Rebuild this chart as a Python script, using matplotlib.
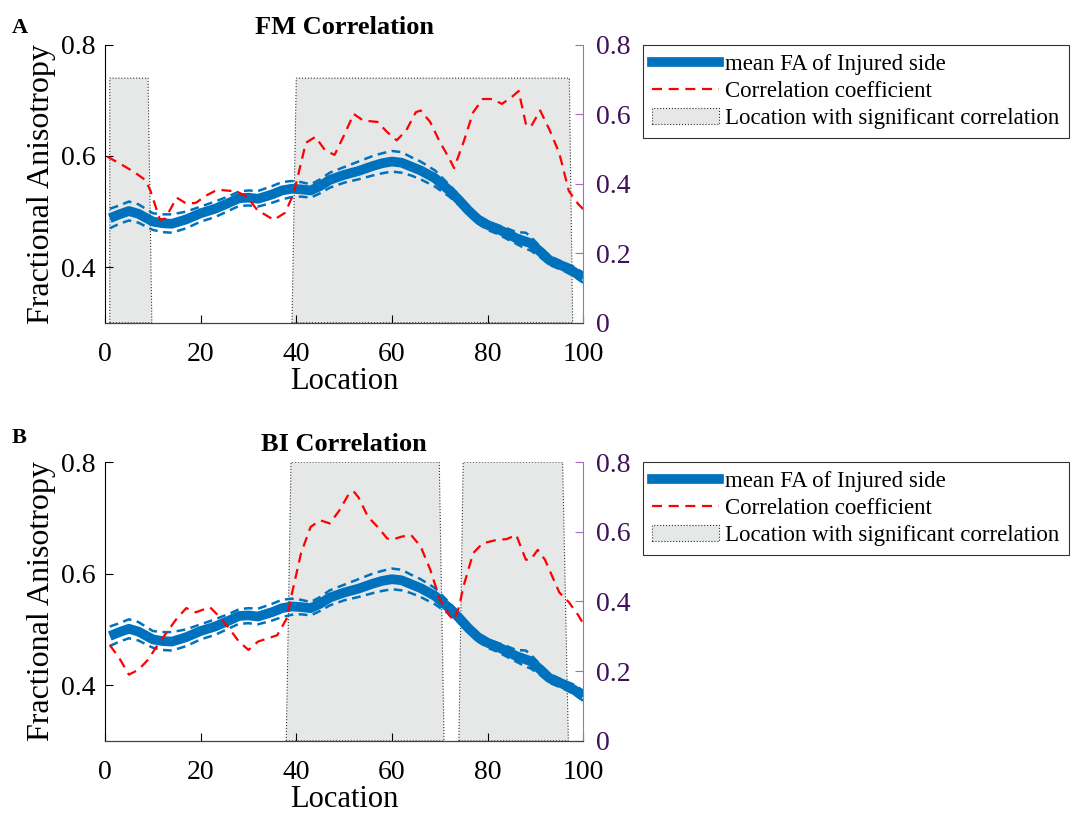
import numpy as np
import matplotlib.pyplot as plt
from matplotlib.patches import Polygon, Patch
from matplotlib.lines import Line2D

plt.rcParams['font.family'] = ['Liberation Serif', 'DejaVu Serif']

# mean FA of injured side (same in both panels) with its confidence band
fa_x = [1, 3, 5, 7, 10, 12, 14, 17, 20, 23, 26, 28, 30, 32, 35, 37, 39, 41, 43, 45,
        47, 50, 53, 56, 58, 60, 62, 64, 66, 69, 72, 74, 76, 78, 80, 82, 84, 86, 88, 89,
        91, 93, 96, 98, 100]
fa_mean = [0.488, 0.495, 0.501, 0.496, 0.482, 0.479, 0.478, 0.486, 0.497, 0.505,
           0.516, 0.524, 0.525, 0.523, 0.531, 0.538, 0.541, 0.540, 0.538, 0.546,
           0.557, 0.566, 0.573, 0.582, 0.587, 0.590, 0.588, 0.581, 0.574, 0.560,
           0.538, 0.521, 0.502, 0.486, 0.476, 0.469, 0.461, 0.452, 0.446, 0.443,
           0.428, 0.412, 0.401, 0.392, 0.380]
fa_upper = [0.505, 0.511, 0.518, 0.513, 0.497, 0.495, 0.495, 0.500, 0.509, 0.518,
            0.528, 0.536, 0.538, 0.537, 0.546, 0.553, 0.555, 0.553, 0.549, 0.558,
            0.570, 0.580, 0.590, 0.600, 0.605, 0.609, 0.607, 0.598, 0.590, 0.574,
            0.548, 0.530, 0.506, 0.492, 0.482, 0.476, 0.470, 0.463, 0.462, 0.455,
            0.437, 0.420, 0.408, 0.401, 0.390]
fa_lower = [0.470, 0.478, 0.484, 0.480, 0.467, 0.463, 0.462, 0.470, 0.482, 0.490,
            0.502, 0.510, 0.511, 0.509, 0.516, 0.522, 0.526, 0.527, 0.525, 0.533,
            0.543, 0.552, 0.558, 0.565, 0.569, 0.572, 0.570, 0.565, 0.558, 0.545,
            0.527, 0.512, 0.496, 0.478, 0.467, 0.460, 0.451, 0.442, 0.433, 0.430,
            0.418, 0.404, 0.393, 0.384, 0.372]

# correlation coefficient, panel A (FM)
corr_a_x = [0.5, 3.5, 6.3, 8.5, 9.5, 11.5, 12.6, 15, 17, 19, 21, 23.5, 27.5, 29.7,
            31.8, 35.3, 37.7, 39.5, 42, 44, 46, 48, 50, 52, 54, 57, 59, 61, 63, 65,
            66, 68, 70, 72, 73, 75, 77, 79, 81, 83, 85, 86.5, 88, 89, 91, 93, 95,
            97, 99, 100]
corr_a = [0.478, 0.455, 0.432, 0.410, 0.380, 0.296, 0.300, 0.360, 0.343, 0.345,
          0.365, 0.383, 0.378, 0.363, 0.325, 0.296, 0.317, 0.374, 0.518, 0.535,
          0.497, 0.483, 0.540, 0.601, 0.582, 0.578, 0.549, 0.525, 0.554, 0.606,
          0.611, 0.578, 0.521, 0.473, 0.445, 0.521, 0.606, 0.644, 0.644, 0.630,
          0.649, 0.667, 0.573, 0.563, 0.611, 0.554, 0.488, 0.379, 0.341, 0.327]

# correlation coefficient, panel B (BI)
corr_b_x = [1, 3, 5, 7, 9, 11, 13, 15, 17, 19, 21, 22, 24, 26, 28, 30, 32, 34, 36,
            38, 39, 41, 43, 45, 47, 49, 51, 52, 53, 55, 57, 59, 60, 62, 64, 66, 68,
            70, 72, 73, 74, 75, 77, 79, 82, 84, 86, 88, 89, 90.5, 92, 95, 97, 99, 100]
corr_b = [0.275, 0.237, 0.190, 0.204, 0.233, 0.275, 0.313, 0.351, 0.381, 0.369,
          0.379, 0.383, 0.355, 0.322, 0.285, 0.261, 0.285, 0.294, 0.303, 0.351,
          0.417, 0.539, 0.614, 0.633, 0.624, 0.661, 0.709, 0.716, 0.699, 0.643,
          0.614, 0.581, 0.577, 0.586, 0.591, 0.558, 0.492, 0.407, 0.360, 0.346,
          0.383, 0.445, 0.539, 0.567, 0.577, 0.579, 0.591, 0.520, 0.520, 0.548,
          0.520, 0.426, 0.398, 0.360, 0.336]

# significant regions: (bottom-left x, top-left x, top-right x, bottom-right x)
sig_a = [(1.0, 1.0, 9.0, 9.8), (39.1, 40.0, 97.1, 97.8)]
sig_b = [(37.9, 38.9, 69.9, 70.9), (74.0, 74.9, 95.7, 96.9)]
sig_top = [0.74, 0.8]

titles = ['FM Correlation', 'BI Correlation']
letters = ['A', 'B']
corr_x = [corr_a_x, corr_b_x]
corr_y = [corr_a, corr_b]
sigs = [sig_a, sig_b]

BLUE = '#0072BD'
PURPLE_LINE = '#A070C0'
PURPLE_TXT = '#40105A'
GRAY = '#E6E7E7'

fig = plt.figure(figsize=(10.77, 8.15), dpi=100)
boxes = [[0.0975, 0.604, 0.444, 0.341], [0.0975, 0.091, 0.444, 0.342]]
letter_y = [0.966, 0.463]

for k in range(2):
    ax = fig.add_axes(boxes[k])
    ax2 = ax.twinx()

    for bl, tl, tr, br in sigs[k]:
        poly = Polygon([(bl, 0.3), (tl, sig_top[k]), (tr, sig_top[k]), (br, 0.3)],
                       closed=True, facecolor=GRAY, edgecolor='#333333',
                       linestyle=':', linewidth=0.8, zorder=1)
        ax.add_patch(poly)

    ax.plot(fa_x, fa_upper, color=BLUE, lw=1.8, dashes=(3.5, 2.2), zorder=3)
    ax.plot(fa_x, fa_lower, color=BLUE, lw=1.8, dashes=(3.5, 2.2), zorder=3)
    ax.plot(fa_x, fa_mean, color=BLUE, lw=7, solid_capstyle='butt', zorder=4)
    ax2.plot(corr_x[k], corr_y[k], color='#FF0000', lw=1.6, dashes=(4.5, 3))

    ax.set_xlim(0, 100)
    ax.set_ylim(0.3, 0.8)
    ax2.set_ylim(0, 0.8)
    ax.set_xticks([0, 20, 40, 60, 80, 100])
    ax.set_yticks([0.4, 0.6, 0.8])
    ax.set_yticklabels(['0.4', '0.6', '0.8'])
    ax2.set_yticks([0, 0.2, 0.4, 0.6, 0.8])
    ax2.set_yticklabels(['0', '0.2', '0.4', '0.6', '0.8'])

    ax.tick_params(axis='y', direction='in', length=6, labelsize=20, pad=7)
    ax.tick_params(axis='x', direction='in', length=6, labelsize=20, pad=14)
    ax2.tick_params(direction='in', length=6, labelsize=20, pad=9,
                    colors=PURPLE_LINE, labelcolor=PURPLE_TXT)
    ax.spines['top'].set_visible(False)
    ax2.spines['top'].set_visible(False)
    ax2.spines['left'].set_visible(False)
    ax2.spines['bottom'].set_color('#5A2D70')
    ax2.spines['right'].set_color(PURPLE_LINE)
    ax.spines['right'].set_visible(False)

    ax.set_xlabel('Location', fontsize=22, labelpad=0)
    ax.set_ylabel('Fractional Anisotropy', fontsize=23, labelpad=3)
    ax.set_title(titles[k], fontsize=19, fontweight='bold', pad=8)
    fig.text(0.011, letter_y[k], letters[k], fontsize=16, fontweight='bold',
             va='center', ha='left')

    handles = [Line2D([], [], color=BLUE, lw=7),
               Line2D([], [], color='#FF0000', lw=1.6, dashes=(4.5, 3)),
               Patch(facecolor=GRAY, edgecolor='#333333', linestyle=':', linewidth=0.8)]
    labels = ['mean FA of Injured side', 'Correlation coefficient',
              'Location with significant correlation']
    leg = ax.legend(handles, labels, loc='upper left', bbox_to_anchor=(1.125, 1.0),
                    borderaxespad=0, fontsize=16.5, frameon=True, fancybox=False,
                    edgecolor='black', handlelength=2.9, handletextpad=0.3,
                    borderpad=0.4, labelspacing=0.25)
    leg.get_frame().set_linewidth(0.8)

fig.savefig('out.png', dpi=100)
